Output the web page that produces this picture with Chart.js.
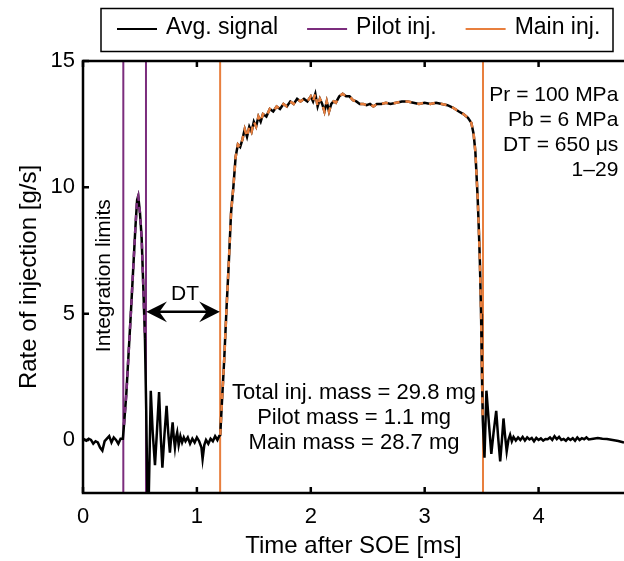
<!DOCTYPE html>
<html>
<head>
<meta charset="utf-8">
<script src="https://cdn.jsdelivr.net/npm/chart.js@4/dist/chart.umd.min.js"></script>
<style>
    html, body { margin: 0; padding: 0; background: #fff; }
    canvas { display: block; }
</style>
</head>
<body>
<canvas id="rateChart" width="624" height="561"></canvas>
<script>
// averaged rate-of-injection signal
const timeMs = [
    0.00, 0.03, 0.05, 0.07, 0.09, 0.11, 0.13, 0.15, 0.17, 0.19, 0.21, 0.23, 0.25, 0.27, 0.29, 0.31, 0.33, 0.35,
    0.36, 0.38, 0.40, 0.42, 0.44, 0.46, 0.475, 0.485, 0.50, 0.515, 0.53, 0.544, 0.555, 0.565, 0.575, 0.585,
    0.595, 0.612, 0.632, 0.65, 0.668, 0.682, 0.697, 0.715, 0.734, 0.748, 0.763, 0.776, 0.787, 0.797, 0.807, 0.817,
    0.827, 0.84, 0.855, 0.87, 0.885, 0.90, 0.92, 0.94, 0.96, 0.98, 1.00, 1.02, 1.04, 1.05, 1.065, 1.08,
    1.10, 1.12, 1.14, 1.16, 1.18, 1.195, 1.205,
    1.22, 1.24, 1.26, 1.28, 1.30, 1.32, 1.34, 1.36, 1.38, 1.40, 1.42, 1.44, 1.46, 1.48, 1.50, 1.52, 1.54, 1.56, 1.58,
    1.61, 1.64, 1.67, 1.70, 1.73, 1.76, 1.79, 1.82, 1.85, 1.88, 1.91, 1.94, 1.97, 2.00, 2.02, 2.04, 2.06, 2.08,
    2.10, 2.12, 2.14, 2.16, 2.18, 2.20, 2.22, 2.25, 2.28, 2.31, 2.34, 2.37, 2.40, 2.43, 2.46, 2.49, 2.52, 2.55,
    2.58, 2.62, 2.66, 2.70, 2.75, 2.80, 2.85, 2.90, 2.95, 3.00, 3.05, 3.10, 3.15, 3.20, 3.25, 3.30, 3.34, 3.38,
    3.41, 3.43, 3.445, 3.455, 3.465, 3.475, 3.485, 3.495, 3.502, 3.51,
    3.525, 3.542, 3.565, 3.585, 3.605, 3.628, 3.645, 3.663, 3.68, 3.692, 3.705, 3.72, 3.735, 3.75, 3.765, 3.78,
    3.80, 3.82, 3.84, 3.86, 3.88, 3.90, 3.92, 3.94, 3.96, 3.98, 4.00, 4.02, 4.04, 4.06, 4.08, 4.10, 4.12, 4.14,
    4.16, 4.18, 4.20, 4.22, 4.24, 4.26, 4.28, 4.30, 4.32, 4.34, 4.36, 4.38, 4.40, 4.42, 4.44, 4.48, 4.52, 4.56,
    4.60, 4.65, 4.70, 4.75
];
const rateGs = [
    0.05, -0.03, 0.05, 0.00, -0.15, -0.05, -0.10, -0.30, -0.42, -0.05, 0.05, 0.15, -0.10, 0.10, 0.00, -0.15, 0.05, 0.05,
    0.6, 1.8, 3.4, 5.0, 6.7, 8.4, 9.5, 9.65, 9.0, 8.0, 6.0, 4.0, 1.2, -2.1, -2.8, -0.5,
    1.95, 0.3, -1.0, 0.4, 1.9, 0.2, -1.1, 0.2, 1.35, 0.3, -0.5, 0.2, 0.7, 0.1, -0.3, 0.1,
    0.3, -0.2, 0.15, -0.1, 0.1, -0.05, 0.1, -0.15, 0.05, -0.1, 0.1, -0.05, -0.3, -0.75, -0.2, 0.0,
    -0.15, 0.05, -0.05, 0.15, 0.0, 0.15, 0.2,
    1.5, 3.2, 5.2, 7.0, 9.0, 10.0, 11.2, 11.7, 11.6, 11.9, 12.3, 12.0, 12.4, 12.2, 12.6, 12.4, 12.8, 12.6, 12.9,
    12.8, 13.1, 13.0, 13.2, 13.1, 13.3, 13.2, 13.4, 13.3, 13.5, 13.4, 13.5, 13.4, 13.6, 13.4, 13.7, 13.2, 13.5,
    13.3, 13.0, 13.4, 13.0, 13.3, 13.4, 13.35, 13.6, 13.7, 13.6, 13.6, 13.45, 13.4, 13.3, 13.3, 13.25, 13.3, 13.2,
    13.3, 13.3, 13.35, 13.3, 13.35, 13.4, 13.4, 13.35, 13.3, 13.35, 13.3, 13.35, 13.3, 13.25, 13.15, 13.0, 12.9, 12.75,
    12.55, 12.1, 11.4, 10.5, 9.6, 8.4, 7.0, 5.0, 2.8, 0.8,
    -0.7, 1.95, 0.6, -0.55, 0.3, 1.15, 0.1, -0.85, 0.1, 0.85, 0.2, -0.45, 0.0, 0.2, -0.05, 0.12,
    -0.02, 0.1, 0.0, 0.12, -0.02, 0.1, 0.02, 0.08, -0.05, 0.08, 0.0, 0.06, -0.03, 0.04, 0.03, 0.1, 0.0, 0.15,
    0.03, 0.12, 0.0, 0.04, -0.03, 0.07, 0.0, 0.07, -0.03, 0.1, 0.0, 0.07, 0.03, 0.1, 0.02, 0.05, 0.08, 0.05,
    0.04, 0.0, -0.04, -0.1
];

// integration limits [ms]
const pilotLimits = [0.354, 0.553];
const mainLimits = [1.204, 3.512];

const xTicks = [0, 1, 2, 3, 4];
const yTicks = [0, 5, 10, 15];
const seriesLabels = ["Avg. signal", "Pilot inj.", "Main inj."];
const infoLines = ["Pr = 100 MPa", "Pb = 6 MPa", "DT = 650 μs", "1–29"];
const massLines = ["Total inj. mass = 29.8 mg", "Pilot mass = 1.1 mg", "Main mass = 28.7 mg"];

const xMax = 4.75;
const yMin = -2.1, yMax = 15;
const FONT = "'Liberation Sans', Arial, Helvetica, sans-serif";
const purple = "#7b2d7d";
const orange = "#e87f3e";

Chart.defaults.font.family = FONT;
Chart.defaults.font.size = 22;
Chart.defaults.color = "#000";

function signalPoints() {
    return timeMs.map((t, i) => ({ x: t, y: rateGs[i] }));
}

function windowPoints(lims) {
    return signalPoints().filter(p => p.x >= lims[0] && p.x <= lims[1]);
}

// vertical lines, broken by a null point so both sit in one dataset
function limitLines(lims) {
    return [
        { x: lims[0], y: yMin }, { x: lims[0], y: yMax },
        { x: (lims[0] + lims[1]) / 2, y: null },
        { x: lims[1], y: yMax }, { x: lims[1], y: yMin }
    ];
}

const decorPlugin = {
    id: "decor",
    afterDraw(chart) {
        const { ctx, chartArea: a, scales: { x, y } } = chart;
        ctx.save();

        // frame: left, top, bottom
        ctx.strokeStyle = "#000";
        ctx.lineWidth = 2.5;
        ctx.beginPath();
        ctx.moveTo(a.right + 3, a.top);
        ctx.lineTo(a.left, a.top);
        ctx.lineTo(a.left, a.bottom);
        ctx.lineTo(a.right + 3, a.bottom);
        ctx.stroke();

        // inward ticks
        ctx.beginPath();
        xTicks.forEach(v => {
            const px = x.getPixelForValue(v);
            ctx.moveTo(px, a.bottom); ctx.lineTo(px, a.bottom - 6);
            ctx.moveTo(px, a.top); ctx.lineTo(px, a.top + 6);
        });
        yTicks.forEach(v => {
            const py = y.getPixelForValue(v);
            ctx.moveTo(a.left, py); ctx.lineTo(a.left + 6, py);
        });
        ctx.stroke();

        // legend box
        const legendY = 29;
        ctx.lineWidth = 1.5;
        ctx.strokeRect(101, 8.5, 512, 43);
        ctx.font = "23px " + FONT;
        ctx.textBaseline = "middle";
        ctx.textAlign = "left";
        let lx = 117;
        chart.data.datasets.filter(ds => !ds.overlay).forEach(ds => {
            ctx.strokeStyle = ds.borderColor;
            ctx.lineWidth = 2;
            ctx.beginPath();
            ctx.moveTo(lx, legendY); ctx.lineTo(lx + 40, legendY);
            ctx.stroke();
            ctx.fillStyle = "#000";
            ctx.fillText(ds.label, lx + 49, legendY - 1.5);
            lx += 49 + ctx.measureText(ds.label).width + 29;
        });

        // text annotations
        ctx.font = "21px " + FONT;
        ctx.fillStyle = "#000";
        ctx.textAlign = "right";
        const rx = x.getPixelForValue(4.70), ry = y.getPixelForValue(13.66);
        infoLines.forEach((s, i) => ctx.fillText(s, rx, ry + i * 25));

        ctx.font = "22px " + FONT;
        ctx.textAlign = "center";
        const mx = x.getPixelForValue(2.38), my = y.getPixelForValue(1.86);
        massLines.forEach((s, i) => ctx.fillText(s, mx, my + i * 25));

        ctx.font = "21px " + FONT;
        ctx.fillText("DT", x.getPixelForValue(0.896), y.getPixelForValue(5.76));

        ctx.save();
        ctx.translate(x.getPixelForValue(0.184), y.getPixelForValue(6.5));
        ctx.rotate(-Math.PI / 2);
        ctx.fillText("Integration limits", 0, 0);
        ctx.restore();

        // DT double arrow between pilot end and main start
        const ax0 = x.getPixelForValue(pilotLimits[1]) + 3;
        const ax1 = x.getPixelForValue(mainLimits[0]) - 3;
        const ay = y.getPixelForValue(5.07);
        ctx.strokeStyle = "#000";
        ctx.lineWidth = 2.5;
        ctx.beginPath();
        ctx.moveTo(ax0 + 4, ay); ctx.lineTo(ax1 - 4, ay);
        ctx.stroke();
        [[ax0, 1], [ax1, -1]].forEach(([tx, d]) => {
            ctx.beginPath();
            ctx.moveTo(tx, ay);
            ctx.lineTo(tx + d * 14, ay - 7);
            ctx.lineTo(tx + d * 9, ay);
            ctx.lineTo(tx + d * 14, ay + 7);
            ctx.closePath();
            ctx.fillStyle = "#000";
            ctx.fill();
            ctx.stroke();
        });

        ctx.restore();
    }
};

const ctx = document.getElementById("rateChart").getContext("2d");

new Chart(ctx, {
    type: "line",
    data: {
        datasets: [
            {
                label: seriesLabels[1] + " window",
                overlay: true,
                data: windowPoints(pilotLimits),
                borderColor: purple,
                borderWidth: 2.5,
                borderDash: [6, 6],
                pointRadius: 0,
                order: 0
            },
            {
                label: seriesLabels[2] + " window",
                overlay: true,
                data: windowPoints(mainLimits),
                borderColor: orange,
                borderWidth: 2.5,
                borderDash: [6, 6],
                pointRadius: 0,
                order: 0
            },
            {
                label: seriesLabels[0],
                data: signalPoints(),
                borderColor: "#000",
                borderWidth: 2.5,
                pointRadius: 0,
                order: 1
            },
            {
                label: seriesLabels[1],
                data: limitLines(pilotLimits),
                borderColor: purple,
                borderWidth: 2,
                pointRadius: 0,
                spanGaps: false,
                order: 2
            },
            {
                label: seriesLabels[2],
                data: limitLines(mainLimits),
                borderColor: orange,
                borderWidth: 2,
                pointRadius: 0,
                spanGaps: false,
                order: 2
            }
        ]
    },
    options: {
        responsive: false,
        animation: false,
        layout: { padding: { top: 61, left: 0, right: 0, bottom: 0 } },
        plugins: {
            legend: { display: false },
            tooltip: { enabled: false }
        },
        scales: {
            x: {
                type: "linear",
                min: 0,
                max: xMax,
                afterFit: s => { s.height = 68; },
                afterBuildTicks: s => { s.ticks = xTicks.map(v => ({ value: v })); },
                grid: { display: false, drawTicks: false },
                border: { display: false },
                ticks: { padding: 11, maxRotation: 0, font: { size: 22 }, color: "#000" },
                title: { display: true, text: "Time after SOE [ms]", font: { size: 24 }, color: "#000", padding: { top: 0, bottom: 0 } }
            },
            y: {
                min: yMin,
                max: yMax,
                afterFit: s => { s.width = 83; },
                afterBuildTicks: s => { s.ticks = yTicks.map(v => ({ value: v })); },
                grid: { display: false, drawTicks: false },
                border: { display: false },
                ticks: { padding: 8, font: { size: 22 }, color: "#000" },
                title: { display: true, text: "Rate of injection [g/s]", font: { size: 24 }, color: "#000", padding: { top: 15, bottom: 0 } }
            }
        }
    },
    plugins: [decorPlugin]
});
</script>
</body>
</html>
